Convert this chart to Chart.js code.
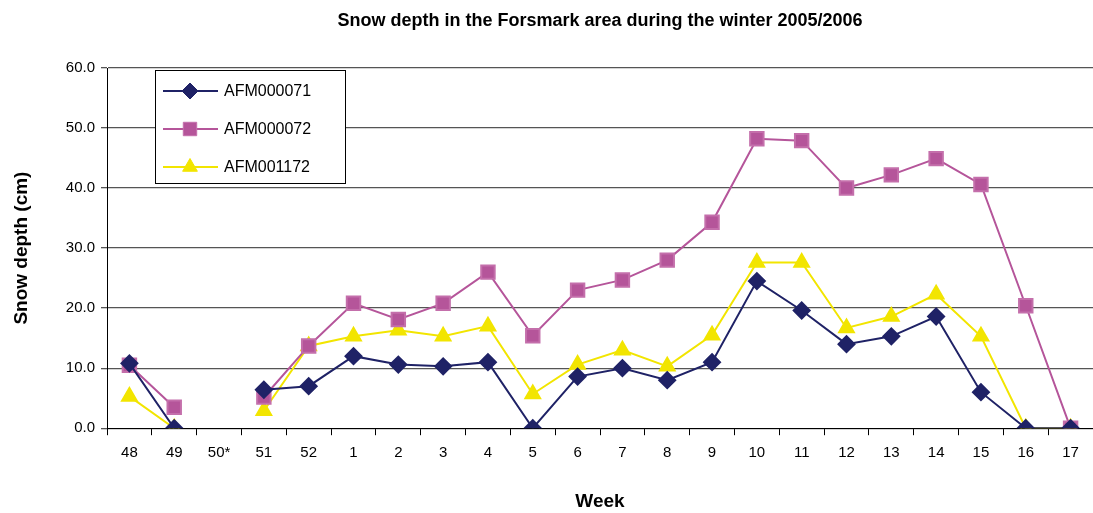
<!DOCTYPE html>
<html>
<head>
<meta charset="utf-8">
<script src="https://cdn.jsdelivr.net/npm/chart.js@4"></script>
<style>
html,body{margin:0;padding:0;background:#fff;}
#wrap{width:1093px;height:513px;position:relative;}
</style>
</head>
<body>
<div id="wrap"><canvas id="myChart" width="1093" height="513"></canvas></div>
<script>
// weeks, winter 2005/2006 (no reading in week 50)
const weeks = ['48','49','50*','51','52','1','2','3','4','5','6','7','8','9','10','11','12','13','14','15','16','17'];
const afm000071 = [10.8, 0, null, 6.4, 7.0, 12.0, 10.6, 10.3, 11.0, 0, 8.6, 10.0, 8.0, 11.0, 24.5, 19.6, 14.0, 15.3, 18.6, 6.0, 0, 0];
const afm000072 = [10.5, 3.5, null, 5.2, 13.7, 20.8, 18.1, 20.8, 26.0, 15.4, 23.0, 24.7, 28.0, 34.3, 48.2, 47.9, 40.0, 42.2, 44.9, 40.6, 20.4, 0];
const afm001172 = [5.3, 0, null, 2.9, 13.7, 15.3, 16.3, 15.3, 17.0, 5.7, 10.6, 13.0, 10.3, 15.5, 27.6, 27.6, 16.7, 18.6, 22.3, 15.3, 0, 0];
const yTicks = [0, 10, 20, 30, 40, 50, 60];

const chartTitle = 'Snow depth in the Forsmark area during the winter 2005/2006';
const FONT = '"Liberation Sans", Arial, sans-serif';

// title centred on the plot area, like the original
const titlePlugin = {
  id: 'plotTitle',
  afterDraw(chart){
    const ctx = chart.ctx, a = chart.chartArea;
    ctx.save();
    ctx.font = 'bold 18px ' + FONT;
    ctx.fillStyle = '#000';
    ctx.textAlign = 'center';
    ctx.textBaseline = 'middle';
    ctx.fillText(chartTitle, (a.left + a.right) / 2, 21);
    ctx.restore();
  }
};

// boxed legend sitting inside the plot
const boxLegend = {
  id: 'boxLegend',
  afterDatasetsDraw(chart){
    const ctx = chart.ctx;
    const x = 155, y = 70, w = 190, h = 113;
    ctx.save();
    ctx.fillStyle = '#fff';
    ctx.fillRect(x, y, w, h);
    ctx.strokeStyle = '#000';
    ctx.lineWidth = 1;
    ctx.strokeRect(x + 0.5, y + 0.5, w, h);
    chart.data.datasets.forEach((ds, i) => {
      const cy = y + 21 + i * 38;
      ctx.strokeStyle = ds.borderColor;
      ctx.lineWidth = ds.borderWidth;
      ctx.beginPath();
      ctx.moveTo(x + 8, cy);
      ctx.lineTo(x + 63, cy);
      ctx.stroke();
      ctx.fillStyle = ds.pointBackgroundColor;
      ctx.strokeStyle = ds.pointBorderColor;
      ctx.lineWidth = 1;
      Chart.helpers.drawPoint(ctx, {
        pointStyle: ds.pointStyle, radius: ds.pointRadius, borderWidth: 1, rotation: 0
      }, x + 35, cy);
      ctx.fillStyle = '#000';
      ctx.font = '16px ' + FONT;
      ctx.textAlign = 'left';
      ctx.textBaseline = 'middle';
      ctx.fillText(ds.label, x + 69, cy + 1);
    });
    ctx.restore();
  }
};

const ctx = document.getElementById('myChart');
const options = {
  type: 'line',
  data: {
    labels: weeks,
    datasets: [
      { label: 'AFM000071', data: afm000071, borderColor: '#1f2266', backgroundColor: '#1f2266',
        pointBackgroundColor: '#1f2266', pointBorderColor: '#1f2266', borderWidth: 2,
        pointStyle: 'rectRot', pointRadius: 8, pointHoverRadius: 8 },
      { label: 'AFM000072', data: afm000072, borderColor: '#b5559a', backgroundColor: '#b5559a',
        pointBackgroundColor: '#b5559a', pointBorderColor: '#c46fab', borderWidth: 2,
        pointStyle: 'rect', pointRadius: 9.5, pointHoverRadius: 9.5 },
      { label: 'AFM001172', data: afm001172, borderColor: '#f2e500', backgroundColor: '#f2e500',
        pointBackgroundColor: '#f2e500', pointBorderColor: '#f2e500', borderWidth: 2,
        pointStyle: 'triangle', pointRadius: 8.5, pointHoverRadius: 8.5 }
    ]
  },
  options: {
    responsive: false,
    animation: false,
    spanGaps: false,
    layout: { autoPadding: false, padding: { top: 68, right: 0, left: 0, bottom: 0 } },
    plugins: { legend: { display: false }, title: { display: false }, tooltip: { enabled: false } },
    scales: {
      x: {
        offset: true,
        grid: { offset: true, drawOnChartArea: false, drawTicks: true, tickLength: 7, color: '#000' },
        border: { color: '#000', width: 1 },
        ticks: { color: '#000', font: { family: FONT, size: 15 }, padding: 9, maxRotation: 0, autoSkip: false },
        title: { display: true, text: 'Week', color: '#000', font: { family: FONT, size: 19, weight: 'bold' }, padding: { top: 19, bottom: 0 } }
      },
      y: {
        min: 0, max: 60,
        afterBuildTicks(scale){ scale.ticks = yTicks.map(v => ({ value: v })); },
        afterFit(scale){ scale.width = 107; },
        grid: { color: '#555', lineWidth: 1.3, drawTicks: true, tickLength: 6 },
        border: { color: '#000', width: 1 },
        ticks: { color: '#000', font: { family: FONT, size: 15 }, padding: 6,
          callback: v => Number(v).toFixed(1) },
        title: { display: true, text: 'Snow depth (cm)', color: '#000', font: { family: FONT, size: 19, weight: 'bold' }, padding: { top: 10, bottom: 14 } }
      }
    }
  },
  plugins: [titlePlugin, boxLegend]
};

new Chart(ctx, options);
</script>
</body>
</html>
